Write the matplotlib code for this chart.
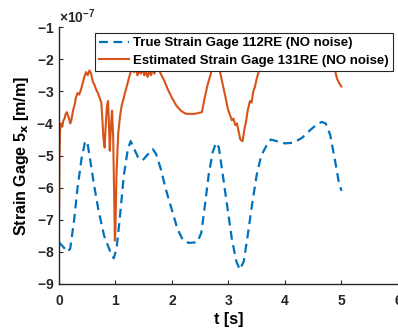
import matplotlib
matplotlib.use("Agg")
import matplotlib.pyplot as plt
from matplotlib.ticker import ScalarFormatter
import numpy as np

plt.rcParams['font.family'] = ['Liberation Sans', 'DejaVu Sans']
plt.rcParams['axes.unicode_minus'] = False
plt.rcParams['mathtext.default'] = 'regular'

# true strain gage (values in 1e-7 m/m)
t_true = [0.00, 0.08, 0.15, 0.20, 0.27, 0.33, 0.40, 0.46, 0.50, 0.55, 0.62, 0.70, 0.80, 0.90,
          0.97, 1.02, 1.08, 1.15, 1.22, 1.27, 1.32, 1.40, 1.48, 1.58, 1.66, 1.72, 1.80, 1.90,
          2.00, 2.10, 2.20, 2.30, 2.45, 2.52, 2.58, 2.65, 2.72, 2.78, 2.83, 2.90, 2.98, 3.06,
          3.14, 3.20, 3.27, 3.34, 3.42, 3.50, 3.58, 3.67, 3.75, 3.85, 4.00, 4.15, 4.30, 4.45,
          4.55, 4.65, 4.72, 4.80, 4.88, 4.95, 5.00]
v_true = [-7.70, -7.85, -8.00, -7.90, -7.00, -6.00, -5.10, -4.60, -4.55, -5.10, -5.90, -6.70,
          -7.50, -7.95, -8.20, -7.90, -6.90, -5.60, -4.80, -4.55, -4.75, -5.05, -5.15, -4.95,
          -4.80, -4.95, -5.40, -6.10, -6.70, -7.30, -7.65, -7.72, -7.70, -7.40, -6.60, -5.60,
          -4.90, -4.60, -4.75, -5.60, -6.60, -7.60, -8.30, -8.55, -8.30, -7.50, -6.50, -5.60,
          -5.00, -4.70, -4.50, -4.55, -4.62, -4.60, -4.45, -4.20, -4.05, -3.95, -4.00, -4.35,
          -5.10, -5.80, -6.10]

# estimated strain gage (values in 1e-7 m/m)
t_est = [0.00, 0.01, 0.02, 0.04, 0.06, 0.08, 0.10, 0.12, 0.14, 0.16, 0.18, 0.20, 0.22, 0.25,
         0.28, 0.30, 0.33, 0.36, 0.39, 0.42, 0.45, 0.48, 0.51, 0.54, 0.57, 0.60, 0.63, 0.66,
         0.69, 0.72, 0.75, 0.77, 0.79, 0.81, 0.83, 0.85, 0.87, 0.89, 0.90, 0.92, 0.94, 0.96,
         0.98, 0.99, 1.00, 1.02, 1.05, 1.08, 1.11, 1.14, 1.17, 1.20, 1.23, 1.26, 1.29, 1.33,
         1.36, 1.39, 1.42, 1.45, 1.48, 1.51, 1.54, 1.57, 1.60, 1.63, 1.66, 1.69, 1.72, 1.75,
         1.80, 1.86, 1.93, 2.00, 2.08, 2.17, 2.25, 2.40, 2.53, 2.58, 2.63, 2.68, 2.72, 2.78,
         2.84, 2.90, 2.95, 2.99, 3.03, 3.06, 3.09, 3.12, 3.15, 3.18, 3.21, 3.25, 3.28, 3.31,
         3.34, 3.38, 3.41, 3.44, 3.47, 3.50, 3.55, 3.60, 3.70, 4.00, 4.40, 4.80, 4.88, 4.92,
         4.96, 5.00]
v_est = [-7.65, -5.00, -4.20, -4.00, -4.10, -3.90, -3.85, -3.70, -3.65, -3.75, -3.85, -4.00,
         -3.90, -3.60, -3.40, -3.20, -3.05, -3.10, -2.95, -2.75, -2.55, -2.40, -2.50, -2.35,
         -2.45, -2.70, -2.80, -2.95, -3.05, -3.20, -3.35, -3.90, -4.50, -4.75, -4.00, -3.45,
         -3.30, -4.30, -4.85, -4.10, -3.60, -4.40, -6.50, -7.65, -7.30, -5.50, -4.30, -3.80,
         -3.45, -3.25, -3.05, -2.85, -2.65, -2.45, -2.30, -2.40, -2.30, -2.50, -2.35, -2.45,
         -2.30, -2.50, -2.40, -2.55, -2.35, -2.50, -2.30, -2.45, -2.30, -2.20, -2.45, -2.65,
         -2.95, -3.20, -3.45, -3.62, -3.70, -3.70, -3.65, -3.20, -2.80, -2.50, -2.20, -2.00,
         -2.30, -2.80, -3.20, -3.55, -3.75, -3.90, -3.85, -4.05, -4.00, -4.25, -4.50, -4.55,
         -4.20, -3.95, -3.60, -3.30, -3.35, -3.00, -2.85, -2.60, -2.30, -2.10, -2.00, -2.00,
         -2.00, -2.00, -2.30, -2.60, -2.75, -2.85]

fig = plt.figure(figsize=(3.98, 3.31), dpi=100)
ax = fig.add_axes([0.148, 0.142, 0.852, 0.776])

ax.plot(t_true, np.array(v_true) * 1e-7, color='#0072BD', lw=1.6, ls=(0, (4, 2.5)),
        label='True Strain Gage 112RE (NO noise)')
ax.plot(t_est, np.array(v_est) * 1e-7, color='#D95319', lw=1.5,
        label='Estimated Strain Gage 131RE (NO noise)')

ax.set_xlim(0, 6)
ax.set_ylim(-9e-7, -1e-7)
ax.set_xticks(range(0, 7))
ax.set_yticks(np.arange(-9, 0) * 1e-7)

fmt = ScalarFormatter(useMathText=True)
fmt.set_powerlimits((-3, 3))
ax.yaxis.set_major_formatter(fmt)

for s in ['top', 'right']:
    ax.spines[s].set_visible(False)
for s in ['left', 'bottom']:
    ax.spines[s].set_color('#262626')
    ax.spines[s].set_linewidth(1.0)
ax.tick_params(direction='in', length=3, width=0.8, colors='#262626', labelsize=10)
ax.tick_params(axis='x', pad=7)
for lbl in ax.get_xticklabels() + ax.get_yticklabels():
    lbl.set_fontweight('bold')
ax.yaxis.get_offset_text().set_fontsize(10)
ax.yaxis.get_offset_text().set_fontweight('bold')

ax.set_xlabel('t [s]', fontsize=11.5, fontweight='bold', labelpad=3)
ax.set_ylabel(r'Strain Gage 5$_{\mathbf{x}}$ [m/m]', fontsize=11.5, fontweight='bold', labelpad=4)

leg = ax.legend(loc='upper left', bbox_to_anchor=(0.106, 0.977), prop={'weight': 'bold', 'size': 9.5},
                frameon=True, fancybox=False, framealpha=1, edgecolor='#262626',
                borderpad=0.3, labelspacing=0.4, handlelength=2.3, handletextpad=0.3,
                borderaxespad=0)
leg.get_frame().set_linewidth(0.8)

fig.savefig('out.png', dpi=100)
